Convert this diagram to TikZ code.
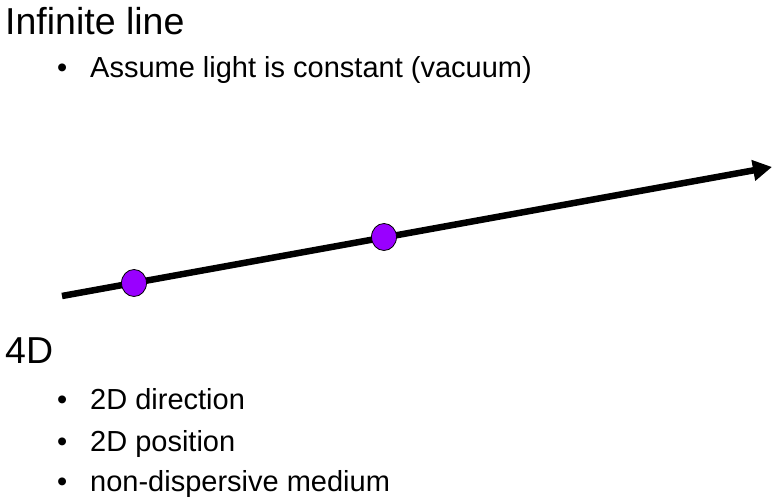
\documentclass[tikz,border=0pt]{standalone}
\usepackage{fontspec}
\setmainfont{Liberation Sans}
\usetikzlibrary{arrows.meta,shapes.geometric}
\definecolor{dotpurple}{RGB}{153,0,255}
\tikzset{
  title/.style={anchor=base west, inner sep=0pt, font=\fontsize{37.5}{40}\selectfont},
  item/.style={anchor=base west, inner sep=0pt, font=\fontsize{29}{32}\selectfont},
  bul/.style={anchor=base west, inner sep=0pt, font=\fontsize{29}{32}\selectfont},
  ray/.style={line width=6.5pt, -{Triangle[length=19pt,width=20pt]}},
  dot/.style={ellipse, draw=black, line width=0.8pt, fill=dotpurple, minimum width=25pt, minimum height=27pt, inner sep=0pt}
}
\begin{document}
\begin{tikzpicture}[x=1pt,y=1pt]
\useasboundingbox (0,0) rectangle (781,500);
\node[title] (t1) at (5,465) {Infinite line};
\node[bul] (b1) at (57,422) {•};
\node[item] (i1) at (90,422) {Assume light is constant (vacuum)};
\coordinate (s) at (62,204);
\coordinate (e) at (772,333);
\draw[ray] (s) -- (e);
\node[dot] (d1) at (134,217) {};
\node[dot] (d2) at (384,263) {};
\node[title] (t2) at (5,136) {4D};
\node[bul] (b2) at (57,90) {•};
\node[item] (i2) at (90,90) {2D direction};
\node[bul] (b3) at (57,48) {•};
\node[item] (i3) at (90,48) {2D position};
\node[bul] (b4) at (57,8) {•};
\node[item] (i4) at (90,8) {non-dispersive medium};
\end{tikzpicture}
\end{document}
